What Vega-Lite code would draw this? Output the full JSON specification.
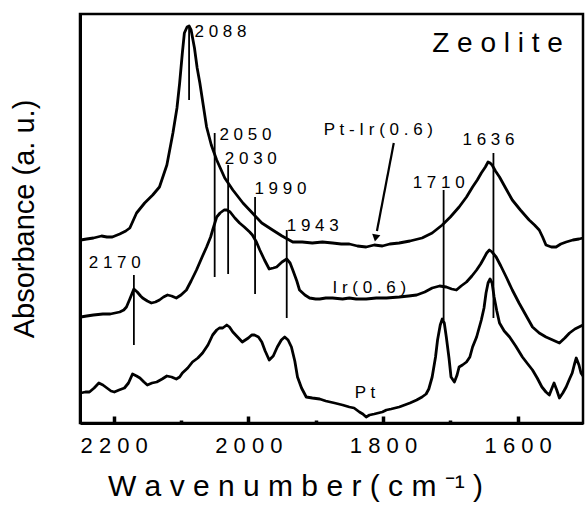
{
  "$schema": "https://vega.github.io/schema/vega-lite/v6.json",
  "width": 503,
  "height": 409,
  "autosize": {"type": "none"},
  "padding": {"left": 80, "top": 14, "right": 2, "bottom": 83},
  "background": "white",
  "config": {
    "view": {"stroke": "black", "strokeWidth": 2.5},
    "font": "Liberation Sans"
  },
  "datasets": {
    "spectra": [
      {"series": "Pt-Ir(0.6)", "wn": 2249, "a": 183}, {"series": "Pt-Ir(0.6)", "wn": 2240, "a": 184}, {"series": "Pt-Ir(0.6)", "wn": 2230, "a": 185},
      {"series": "Pt-Ir(0.6)", "wn": 2218, "a": 187}, {"series": "Pt-Ir(0.6)", "wn": 2210, "a": 186}, {"series": "Pt-Ir(0.6)", "wn": 2202, "a": 186},
      {"series": "Pt-Ir(0.6)", "wn": 2191, "a": 189}, {"series": "Pt-Ir(0.6)", "wn": 2182, "a": 192}, {"series": "Pt-Ir(0.6)", "wn": 2176, "a": 195},
      {"series": "Pt-Ir(0.6)", "wn": 2166, "a": 210}, {"series": "Pt-Ir(0.6)", "wn": 2154, "a": 220}, {"series": "Pt-Ir(0.6)", "wn": 2142, "a": 228},
      {"series": "Pt-Ir(0.6)", "wn": 2132, "a": 236}, {"series": "Pt-Ir(0.6)", "wn": 2121, "a": 258}, {"series": "Pt-Ir(0.6)", "wn": 2112, "a": 290},
      {"series": "Pt-Ir(0.6)", "wn": 2106, "a": 315}, {"series": "Pt-Ir(0.6)", "wn": 2102, "a": 340}, {"series": "Pt-Ir(0.6)", "wn": 2098, "a": 370},
      {"series": "Pt-Ir(0.6)", "wn": 2095, "a": 390}, {"series": "Pt-Ir(0.6)", "wn": 2091, "a": 396}, {"series": "Pt-Ir(0.6)", "wn": 2088, "a": 397},
      {"series": "Pt-Ir(0.6)", "wn": 2085, "a": 393}, {"series": "Pt-Ir(0.6)", "wn": 2080, "a": 375}, {"series": "Pt-Ir(0.6)", "wn": 2076, "a": 355},
      {"series": "Pt-Ir(0.6)", "wn": 2072, "a": 340}, {"series": "Pt-Ir(0.6)", "wn": 2067, "a": 318}, {"series": "Pt-Ir(0.6)", "wn": 2062, "a": 296},
      {"series": "Pt-Ir(0.6)", "wn": 2055, "a": 278}, {"series": "Pt-Ir(0.6)", "wn": 2047, "a": 263}, {"series": "Pt-Ir(0.6)", "wn": 2035, "a": 245},
      {"series": "Pt-Ir(0.6)", "wn": 2023, "a": 233}, {"series": "Pt-Ir(0.6)", "wn": 2008, "a": 220}, {"series": "Pt-Ir(0.6)", "wn": 1994, "a": 210},
      {"series": "Pt-Ir(0.6)", "wn": 1980, "a": 200}, {"series": "Pt-Ir(0.6)", "wn": 1964, "a": 193}, {"series": "Pt-Ir(0.6)", "wn": 1950, "a": 187},
      {"series": "Pt-Ir(0.6)", "wn": 1934, "a": 181}, {"series": "Pt-Ir(0.6)", "wn": 1920, "a": 181}, {"series": "Pt-Ir(0.6)", "wn": 1905, "a": 180},
      {"series": "Pt-Ir(0.6)", "wn": 1890, "a": 181}, {"series": "Pt-Ir(0.6)", "wn": 1875, "a": 180}, {"series": "Pt-Ir(0.6)", "wn": 1862, "a": 179},
      {"series": "Pt-Ir(0.6)", "wn": 1850, "a": 179}, {"series": "Pt-Ir(0.6)", "wn": 1838, "a": 177}, {"series": "Pt-Ir(0.6)", "wn": 1825, "a": 176},
      {"series": "Pt-Ir(0.6)", "wn": 1813, "a": 178}, {"series": "Pt-Ir(0.6)", "wn": 1801, "a": 177}, {"series": "Pt-Ir(0.6)", "wn": 1790, "a": 179},
      {"series": "Pt-Ir(0.6)", "wn": 1776, "a": 180}, {"series": "Pt-Ir(0.6)", "wn": 1760, "a": 182}, {"series": "Pt-Ir(0.6)", "wn": 1742, "a": 185},
      {"series": "Pt-Ir(0.6)", "wn": 1727, "a": 190}, {"series": "Pt-Ir(0.6)", "wn": 1712, "a": 198}, {"series": "Pt-Ir(0.6)", "wn": 1700, "a": 206},
      {"series": "Pt-Ir(0.6)", "wn": 1687, "a": 216}, {"series": "Pt-Ir(0.6)", "wn": 1676, "a": 226}, {"series": "Pt-Ir(0.6)", "wn": 1667, "a": 236},
      {"series": "Pt-Ir(0.6)", "wn": 1660, "a": 243}, {"series": "Pt-Ir(0.6)", "wn": 1654, "a": 250}, {"series": "Pt-Ir(0.6)", "wn": 1648, "a": 256},
      {"series": "Pt-Ir(0.6)", "wn": 1644, "a": 261}, {"series": "Pt-Ir(0.6)", "wn": 1641, "a": 260}, {"series": "Pt-Ir(0.6)", "wn": 1638, "a": 258},
      {"series": "Pt-Ir(0.6)", "wn": 1633, "a": 252}, {"series": "Pt-Ir(0.6)", "wn": 1627, "a": 246}, {"series": "Pt-Ir(0.6)", "wn": 1618, "a": 235},
      {"series": "Pt-Ir(0.6)", "wn": 1608, "a": 223}, {"series": "Pt-Ir(0.6)", "wn": 1596, "a": 213}, {"series": "Pt-Ir(0.6)", "wn": 1583, "a": 203},
      {"series": "Pt-Ir(0.6)", "wn": 1575, "a": 198}, {"series": "Pt-Ir(0.6)", "wn": 1568, "a": 193}, {"series": "Pt-Ir(0.6)", "wn": 1563, "a": 186},
      {"series": "Pt-Ir(0.6)", "wn": 1558, "a": 178}, {"series": "Pt-Ir(0.6)", "wn": 1550, "a": 176}, {"series": "Pt-Ir(0.6)", "wn": 1543, "a": 176},
      {"series": "Pt-Ir(0.6)", "wn": 1536, "a": 179}, {"series": "Pt-Ir(0.6)", "wn": 1528, "a": 181}, {"series": "Pt-Ir(0.6)", "wn": 1518, "a": 183},
      {"series": "Pt-Ir(0.6)", "wn": 1509, "a": 184}, {"series": "Pt-Ir(0.6)", "wn": 1503, "a": 185},

      {"series": "Ir(0.6)", "wn": 2249, "a": 106}, {"series": "Ir(0.6)", "wn": 2240, "a": 107}, {"series": "Ir(0.6)", "wn": 2230, "a": 108},
      {"series": "Ir(0.6)", "wn": 2216, "a": 109}, {"series": "Ir(0.6)", "wn": 2205, "a": 109}, {"series": "Ir(0.6)", "wn": 2191, "a": 111},
      {"series": "Ir(0.6)", "wn": 2185, "a": 113}, {"series": "Ir(0.6)", "wn": 2181, "a": 116}, {"series": "Ir(0.6)", "wn": 2176, "a": 124},
      {"series": "Ir(0.6)", "wn": 2170, "a": 134}, {"series": "Ir(0.6)", "wn": 2165, "a": 131}, {"series": "Ir(0.6)", "wn": 2160, "a": 127},
      {"series": "Ir(0.6)", "wn": 2157, "a": 125}, {"series": "Ir(0.6)", "wn": 2150, "a": 122}, {"series": "Ir(0.6)", "wn": 2144, "a": 120},
      {"series": "Ir(0.6)", "wn": 2138, "a": 121}, {"series": "Ir(0.6)", "wn": 2132, "a": 123}, {"series": "Ir(0.6)", "wn": 2126, "a": 126},
      {"series": "Ir(0.6)", "wn": 2120, "a": 128}, {"series": "Ir(0.6)", "wn": 2114, "a": 127}, {"series": "Ir(0.6)", "wn": 2107, "a": 125},
      {"series": "Ir(0.6)", "wn": 2100, "a": 128}, {"series": "Ir(0.6)", "wn": 2092, "a": 133}, {"series": "Ir(0.6)", "wn": 2085, "a": 142},
      {"series": "Ir(0.6)", "wn": 2077, "a": 153}, {"series": "Ir(0.6)", "wn": 2068, "a": 167}, {"series": "Ir(0.6)", "wn": 2062, "a": 176},
      {"series": "Ir(0.6)", "wn": 2056, "a": 186}, {"series": "Ir(0.6)", "wn": 2053, "a": 193}, {"series": "Ir(0.6)", "wn": 2047, "a": 206},
      {"series": "Ir(0.6)", "wn": 2042, "a": 210}, {"series": "Ir(0.6)", "wn": 2036, "a": 213}, {"series": "Ir(0.6)", "wn": 2032, "a": 213},
      {"series": "Ir(0.6)", "wn": 2027, "a": 211}, {"series": "Ir(0.6)", "wn": 2020, "a": 205}, {"series": "Ir(0.6)", "wn": 2013, "a": 200},
      {"series": "Ir(0.6)", "wn": 2006, "a": 196}, {"series": "Ir(0.6)", "wn": 1998, "a": 191}, {"series": "Ir(0.6)", "wn": 1994, "a": 188},
      {"series": "Ir(0.6)", "wn": 1988, "a": 181}, {"series": "Ir(0.6)", "wn": 1983, "a": 173}, {"series": "Ir(0.6)", "wn": 1976, "a": 163},
      {"series": "Ir(0.6)", "wn": 1969, "a": 154}, {"series": "Ir(0.6)", "wn": 1963, "a": 155}, {"series": "Ir(0.6)", "wn": 1958, "a": 156},
      {"series": "Ir(0.6)", "wn": 1950, "a": 161}, {"series": "Ir(0.6)", "wn": 1943, "a": 164}, {"series": "Ir(0.6)", "wn": 1938, "a": 160},
      {"series": "Ir(0.6)", "wn": 1934, "a": 153}, {"series": "Ir(0.6)", "wn": 1928, "a": 142}, {"series": "Ir(0.6)", "wn": 1924, "a": 133},
      {"series": "Ir(0.6)", "wn": 1916, "a": 128}, {"series": "Ir(0.6)", "wn": 1909, "a": 125}, {"series": "Ir(0.6)", "wn": 1900, "a": 124},
      {"series": "Ir(0.6)", "wn": 1894, "a": 124}, {"series": "Ir(0.6)", "wn": 1885, "a": 125}, {"series": "Ir(0.6)", "wn": 1875, "a": 125},
      {"series": "Ir(0.6)", "wn": 1860, "a": 124}, {"series": "Ir(0.6)", "wn": 1850, "a": 125}, {"series": "Ir(0.6)", "wn": 1840, "a": 124},
      {"series": "Ir(0.6)", "wn": 1825, "a": 124}, {"series": "Ir(0.6)", "wn": 1810, "a": 125}, {"series": "Ir(0.6)", "wn": 1795, "a": 125},
      {"series": "Ir(0.6)", "wn": 1776, "a": 126}, {"series": "Ir(0.6)", "wn": 1762, "a": 127}, {"series": "Ir(0.6)", "wn": 1750, "a": 128},
      {"series": "Ir(0.6)", "wn": 1738, "a": 131}, {"series": "Ir(0.6)", "wn": 1727, "a": 135}, {"series": "Ir(0.6)", "wn": 1716, "a": 137},
      {"series": "Ir(0.6)", "wn": 1706, "a": 136}, {"series": "Ir(0.6)", "wn": 1698, "a": 134}, {"series": "Ir(0.6)", "wn": 1691, "a": 133},
      {"series": "Ir(0.6)", "wn": 1684, "a": 137}, {"series": "Ir(0.6)", "wn": 1676, "a": 141}, {"series": "Ir(0.6)", "wn": 1668, "a": 147},
      {"series": "Ir(0.6)", "wn": 1661, "a": 153}, {"series": "Ir(0.6)", "wn": 1655, "a": 159}, {"series": "Ir(0.6)", "wn": 1650, "a": 165},
      {"series": "Ir(0.6)", "wn": 1646, "a": 170}, {"series": "Ir(0.6)", "wn": 1642, "a": 173}, {"series": "Ir(0.6)", "wn": 1638, "a": 171},
      {"series": "Ir(0.6)", "wn": 1632, "a": 166}, {"series": "Ir(0.6)", "wn": 1625, "a": 157}, {"series": "Ir(0.6)", "wn": 1617, "a": 146},
      {"series": "Ir(0.6)", "wn": 1608, "a": 133}, {"series": "Ir(0.6)", "wn": 1598, "a": 120}, {"series": "Ir(0.6)", "wn": 1588, "a": 108},
      {"series": "Ir(0.6)", "wn": 1578, "a": 96}, {"series": "Ir(0.6)", "wn": 1568, "a": 90}, {"series": "Ir(0.6)", "wn": 1558, "a": 86},
      {"series": "Ir(0.6)", "wn": 1548, "a": 83}, {"series": "Ir(0.6)", "wn": 1538, "a": 80}, {"series": "Ir(0.6)", "wn": 1530, "a": 85},
      {"series": "Ir(0.6)", "wn": 1523, "a": 90}, {"series": "Ir(0.6)", "wn": 1515, "a": 94}, {"series": "Ir(0.6)", "wn": 1509, "a": 96},
      {"series": "Ir(0.6)", "wn": 1503, "a": 98},

      {"series": "Pt", "wn": 2249, "a": 30}, {"series": "Pt", "wn": 2242, "a": 31}, {"series": "Pt", "wn": 2236, "a": 31},
      {"series": "Pt", "wn": 2229, "a": 35}, {"series": "Pt", "wn": 2222, "a": 40}, {"series": "Pt", "wn": 2216, "a": 38},
      {"series": "Pt", "wn": 2210, "a": 35}, {"series": "Pt", "wn": 2204, "a": 32}, {"series": "Pt", "wn": 2199, "a": 31},
      {"series": "Pt", "wn": 2192, "a": 33}, {"series": "Pt", "wn": 2184, "a": 35}, {"series": "Pt", "wn": 2178, "a": 40},
      {"series": "Pt", "wn": 2172, "a": 49}, {"series": "Pt", "wn": 2166, "a": 47}, {"series": "Pt", "wn": 2161, "a": 45},
      {"series": "Pt", "wn": 2155, "a": 41}, {"series": "Pt", "wn": 2150, "a": 38}, {"series": "Pt", "wn": 2143, "a": 40},
      {"series": "Pt", "wn": 2136, "a": 41}, {"series": "Pt", "wn": 2128, "a": 44}, {"series": "Pt", "wn": 2121, "a": 47},
      {"series": "Pt", "wn": 2114, "a": 46}, {"series": "Pt", "wn": 2107, "a": 44}, {"series": "Pt", "wn": 2102, "a": 46},
      {"series": "Pt", "wn": 2098, "a": 50}, {"series": "Pt", "wn": 2090, "a": 55}, {"series": "Pt", "wn": 2083, "a": 61},
      {"series": "Pt", "wn": 2075, "a": 65}, {"series": "Pt", "wn": 2068, "a": 70}, {"series": "Pt", "wn": 2060, "a": 78},
      {"series": "Pt", "wn": 2053, "a": 88}, {"series": "Pt", "wn": 2047, "a": 93}, {"series": "Pt", "wn": 2043, "a": 95},
      {"series": "Pt", "wn": 2038, "a": 95}, {"series": "Pt", "wn": 2032, "a": 98}, {"series": "Pt", "wn": 2028, "a": 96},
      {"series": "Pt", "wn": 2023, "a": 91}, {"series": "Pt", "wn": 2016, "a": 86}, {"series": "Pt", "wn": 2009, "a": 81},
      {"series": "Pt", "wn": 2000, "a": 85}, {"series": "Pt", "wn": 1995, "a": 88}, {"series": "Pt", "wn": 1991, "a": 88},
      {"series": "Pt", "wn": 1985, "a": 86}, {"series": "Pt", "wn": 1980, "a": 81}, {"series": "Pt", "wn": 1975, "a": 72},
      {"series": "Pt", "wn": 1969, "a": 63}, {"series": "Pt", "wn": 1963, "a": 67}, {"series": "Pt", "wn": 1957, "a": 76},
      {"series": "Pt", "wn": 1951, "a": 83}, {"series": "Pt", "wn": 1946, "a": 86}, {"series": "Pt", "wn": 1941, "a": 83},
      {"series": "Pt", "wn": 1936, "a": 76}, {"series": "Pt", "wn": 1931, "a": 62}, {"series": "Pt", "wn": 1927, "a": 46},
      {"series": "Pt", "wn": 1921, "a": 35}, {"series": "Pt", "wn": 1914, "a": 26}, {"series": "Pt", "wn": 1905, "a": 25},
      {"series": "Pt", "wn": 1894, "a": 24}, {"series": "Pt", "wn": 1885, "a": 22}, {"series": "Pt", "wn": 1872, "a": 20},
      {"series": "Pt", "wn": 1860, "a": 18}, {"series": "Pt", "wn": 1850, "a": 16}, {"series": "Pt", "wn": 1843, "a": 15},
      {"series": "Pt", "wn": 1835, "a": 11}, {"series": "Pt", "wn": 1830, "a": 9}, {"series": "Pt", "wn": 1825, "a": 6},
      {"series": "Pt", "wn": 1820, "a": 8}, {"series": "Pt", "wn": 1813, "a": 9}, {"series": "Pt", "wn": 1807, "a": 10},
      {"series": "Pt", "wn": 1801, "a": 11}, {"series": "Pt", "wn": 1795, "a": 13}, {"series": "Pt", "wn": 1788, "a": 14},
      {"series": "Pt", "wn": 1776, "a": 16}, {"series": "Pt", "wn": 1768, "a": 18}, {"series": "Pt", "wn": 1760, "a": 20},
      {"series": "Pt", "wn": 1750, "a": 23}, {"series": "Pt", "wn": 1742, "a": 26}, {"series": "Pt", "wn": 1736, "a": 29},
      {"series": "Pt", "wn": 1732, "a": 34}, {"series": "Pt", "wn": 1727, "a": 46}, {"series": "Pt", "wn": 1722, "a": 66},
      {"series": "Pt", "wn": 1719, "a": 83}, {"series": "Pt", "wn": 1715, "a": 98}, {"series": "Pt", "wn": 1712, "a": 104},
      {"series": "Pt", "wn": 1709, "a": 100}, {"series": "Pt", "wn": 1706, "a": 86}, {"series": "Pt", "wn": 1702, "a": 65},
      {"series": "Pt", "wn": 1699, "a": 46}, {"series": "Pt", "wn": 1694, "a": 41}, {"series": "Pt", "wn": 1690, "a": 48},
      {"series": "Pt", "wn": 1687, "a": 56}, {"series": "Pt", "wn": 1682, "a": 58}, {"series": "Pt", "wn": 1676, "a": 61},
      {"series": "Pt", "wn": 1671, "a": 66}, {"series": "Pt", "wn": 1667, "a": 76}, {"series": "Pt", "wn": 1661, "a": 86},
      {"series": "Pt", "wn": 1654, "a": 103}, {"series": "Pt", "wn": 1650, "a": 115}, {"series": "Pt", "wn": 1647, "a": 130},
      {"series": "Pt", "wn": 1644, "a": 140}, {"series": "Pt", "wn": 1641, "a": 144}, {"series": "Pt", "wn": 1638, "a": 140},
      {"series": "Pt", "wn": 1635, "a": 126}, {"series": "Pt", "wn": 1631, "a": 112}, {"series": "Pt", "wn": 1627, "a": 100},
      {"series": "Pt", "wn": 1620, "a": 92}, {"series": "Pt", "wn": 1612, "a": 86}, {"series": "Pt", "wn": 1603, "a": 77},
      {"series": "Pt", "wn": 1593, "a": 66}, {"series": "Pt", "wn": 1585, "a": 59}, {"series": "Pt", "wn": 1578, "a": 53},
      {"series": "Pt", "wn": 1571, "a": 45}, {"series": "Pt", "wn": 1564, "a": 36}, {"series": "Pt", "wn": 1558, "a": 31},
      {"series": "Pt", "wn": 1553, "a": 28}, {"series": "Pt", "wn": 1549, "a": 35}, {"series": "Pt", "wn": 1546, "a": 40},
      {"series": "Pt", "wn": 1542, "a": 33}, {"series": "Pt", "wn": 1538, "a": 25}, {"series": "Pt", "wn": 1533, "a": 30},
      {"series": "Pt", "wn": 1528, "a": 36}, {"series": "Pt", "wn": 1523, "a": 44}, {"series": "Pt", "wn": 1519, "a": 50},
      {"series": "Pt", "wn": 1516, "a": 58}, {"series": "Pt", "wn": 1513, "a": 65}, {"series": "Pt", "wn": 1509, "a": 58},
      {"series": "Pt", "wn": 1506, "a": 50}, {"series": "Pt", "wn": 1503, "a": 47}
    ],
    "peaks": [
      {"wn": 2088, "lo": 323, "hi": 397},
      {"wn": 2050, "lo": 146, "hi": 290},
      {"wn": 2030, "lo": 149, "hi": 258},
      {"wn": 1990, "lo": 129, "hi": 226},
      {"wn": 1943, "lo": 105, "hi": 193},
      {"wn": 2170, "lo": 78, "hi": 148},
      {"wn": 1710, "lo": 103, "hi": 233},
      {"wn": 1636, "lo": 105, "hi": 270}
    ],
    "labels": [
      {"wn": 2080, "a": 391, "text": "2 0 8 8"},
      {"wn": 2043, "a": 288, "text": "2 0 5 0"},
      {"wn": 2035, "a": 264, "text": "2 0 3 0"},
      {"wn": 1991, "a": 234, "text": "1 9 9 0"},
      {"wn": 1943, "a": 197, "text": "1 9 4 3"},
      {"wn": 2237, "a": 160, "text": "2 1 7 0"},
      {"wn": 1756, "a": 240, "text": "1 7 1 0"},
      {"wn": 1682, "a": 283, "text": "1 6 3 6"},
      {"wn": 1888, "a": 293, "text": "P t - I r ( 0 . 6 )"},
      {"wn": 1875, "a": 135, "text": "I r ( 0 . 6 )"},
      {"wn": 1842, "a": 30, "text": "P t"}
    ],
    "panel": [
      {"wn": 1727, "a": 379, "text": "Z e o l i t e"}
    ],
    "arrow": [
      {"wn": 1784, "a": 280, "wn2": 1809, "a2": 192}
    ],
    "arrowhead": [
      {"wn": 1811, "a": 185}
    ]
  },
  "layer": [
    {
      "data": {"name": "spectra"},
      "mark": {"type": "line", "strokeWidth": 2.8, "color": "black", "strokeJoin": "round"},
      "encoding": {
        "x": {
          "field": "wn", "type": "quantitative",
          "scale": {"domain": [1503, 2250], "reverse": true, "nice": false, "zero": false},
          "axis": {
            "values": [2200, 2100, 2000, 1900, 1800, 1700, 1600],
            "format": "d",
            "labelExpr": "datum.value % 200 === 0 ? join(split(datum.label, ''), ' ') : ''",
            "grid": false,
            "domainColor": "black", "domainWidth": 3,
            "tickColor": "black", "tickWidth": 3.5,
            "tickSize": {"condition": {"test": "datum.value % 200 === 0", "value": -7}, "value": -3},
            "labelFont": "Liberation Sans", "labelFontSize": 22, "labelColor": "black",
            "labelPadding": 19, "labelOverlap": false, "labelFlush": false,
            "title": "W a v e n u m b e r  ( c m  ⁻¹ )",
            "titleFont": "Liberation Sans", "titleFontSize": 30, "titleFontWeight": "normal", "titleColor": "black",
            "titleX": 215, "titleY": 72, "titleBaseline": "alphabetic", "titleAlign": "center"
          }
        },
        "y": {
          "field": "a", "type": "quantitative",
          "scale": {"domain": [0, 409], "nice": false, "zero": false},
          "axis": {
            "ticks": false, "labels": false, "grid": false,
            "domainColor": "black", "domainWidth": 3,
            "title": "Absorbance (a. u.)",
            "titleFont": "Liberation Sans", "titleFontSize": 29, "titleFontWeight": "normal", "titleColor": "black",
            "titleX": -47, "titleBaseline": "alphabetic"
          }
        },
        "detail": {"field": "series"}
      }
    },
    {
      "data": {"name": "peaks"},
      "mark": {"type": "rule", "strokeWidth": 1.8, "color": "black"},
      "encoding": {
        "x": {"field": "wn", "type": "quantitative"},
        "y": {"field": "lo", "type": "quantitative"},
        "y2": {"field": "hi"}
      }
    },
    {
      "data": {"name": "labels"},
      "mark": {"type": "text", "font": "Liberation Sans", "fontSize": 17, "align": "left", "baseline": "middle", "color": "black"},
      "encoding": {
        "x": {"field": "wn", "type": "quantitative"},
        "y": {"field": "a", "type": "quantitative"},
        "text": {"field": "text"}
      }
    },
    {
      "data": {"name": "panel"},
      "mark": {"type": "text", "font": "Liberation Sans", "fontSize": 28, "align": "left", "baseline": "middle", "color": "black"},
      "encoding": {
        "x": {"field": "wn", "type": "quantitative"},
        "y": {"field": "a", "type": "quantitative"},
        "text": {"field": "text"}
      }
    },
    {
      "data": {"name": "arrow"},
      "mark": {"type": "rule", "strokeWidth": 2.2, "color": "black"},
      "encoding": {
        "x": {"field": "wn", "type": "quantitative"},
        "y": {"field": "a", "type": "quantitative"},
        "x2": {"field": "wn2"},
        "y2": {"field": "a2"}
      }
    },
    {
      "data": {"name": "arrowhead"},
      "mark": {"type": "point", "shape": "triangle-down", "filled": true, "size": 70, "angle": 11, "color": "black", "opacity": 1},
      "encoding": {
        "x": {"field": "wn", "type": "quantitative"},
        "y": {"field": "a", "type": "quantitative"}
      }
    }
  ]
}
